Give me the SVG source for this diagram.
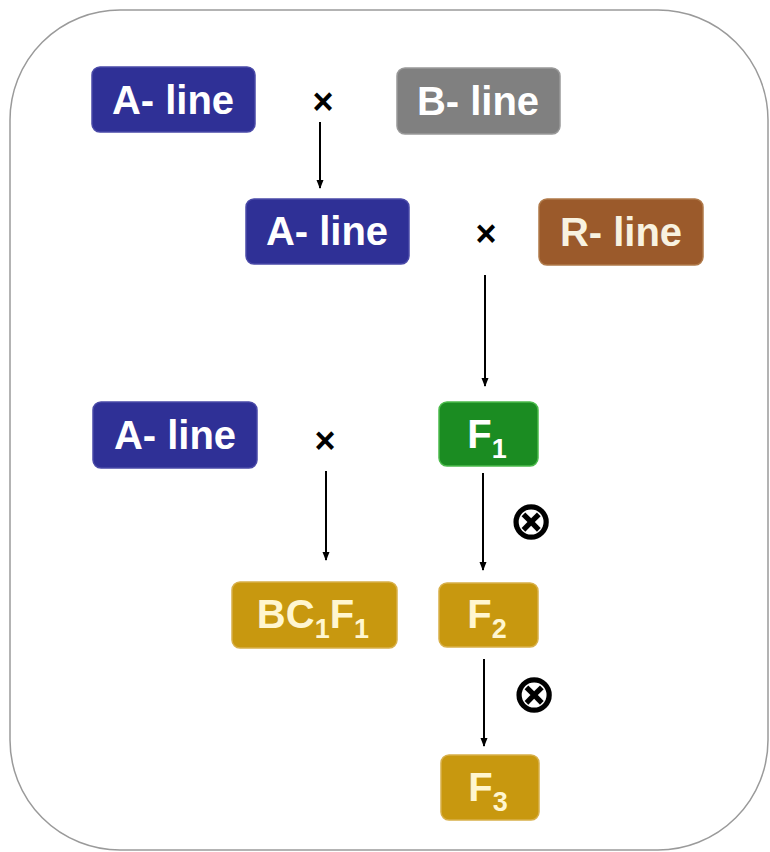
<svg xmlns="http://www.w3.org/2000/svg" width="770" height="852" viewBox="0 0 770 852">
<style>
  .box { stroke-width: 1.5; }
  .lbl { font-family: "Liberation Sans", "DejaVu Sans", sans-serif; font-weight: bold; font-size: 40px; text-anchor: middle; }
  .sub { font-size: 27px; }
  .cross { font-family: "Liberation Sans", "DejaVu Sans", sans-serif; font-weight: bold; font-size: 36px; text-anchor: middle; fill: #000; }
  .otimes { font-family: "DejaVu Sans", sans-serif; font-weight: bold; font-size: 54px; text-anchor: middle; fill: #000; }
  .conn { stroke: #000; stroke-width: 2; fill: none; marker-end: url(#arr); }
  .blue { fill: #2f3096; stroke: #4a4aa8; }
  .gray { fill: #808080; stroke: #999; }
  .brown { fill: #9b5a2b; stroke: #b07a4a; }
  .green { fill: #1b8c22; stroke: #4cbb4c; }
  .gold { fill: #c8980f; stroke: #d8b04a; }
</style>
<defs>
  <marker id="arr" markerWidth="10" markerHeight="10" refX="8" refY="5" orient="auto" markerUnits="userSpaceOnUse">
    <path d="M0,1.5 L9,5 L0,8.5 Z" fill="#000"/>
  </marker>
</defs>
<rect x="0" y="0" width="770" height="852" fill="#fff"/>
<rect x="10" y="10" width="758" height="840" rx="110" ry="110" fill="#fff" stroke="#9a9a9a" stroke-width="1.5"/>

<g id="connectors">
  <line class="conn" x1="320" y1="122" x2="320" y2="188"/>
  <line class="conn" x1="485" y1="275" x2="485" y2="386"/>
  <line class="conn" x1="326" y1="471" x2="326" y2="560"/>
  <line class="conn" x1="483" y1="473" x2="483" y2="570"/>
  <line class="conn" x1="484" y1="659" x2="484" y2="746"/>
</g>

<g id="ops">
  <text class="cross" x="323" y="114">×</text>
  <text class="cross" x="486" y="246">×</text>
  <text class="cross" x="325" y="453">×</text>
  <text class="otimes" x="531" y="539">⊗</text>
  <text class="otimes" x="534" y="712">⊗</text>
</g>

<g id="a-line-1">
  <rect class="box blue" x="92" y="67" width="163" height="65" rx="8"/>
  <text class="lbl" x="173" y="114" fill="#fff">A- line</text>
</g>
<g id="b-line">
  <rect class="box gray" x="397" y="68" width="163" height="66" rx="8"/>
  <text class="lbl" x="478" y="115" fill="#fff">B- line</text>
</g>
<g id="a-line-2">
  <rect class="box blue" x="246" y="199" width="163" height="65" rx="8"/>
  <text class="lbl" x="327" y="245" fill="#fff">A- line</text>
</g>
<g id="r-line">
  <rect class="box brown" x="539" y="199" width="164" height="66" rx="8"/>
  <text class="lbl" x="621" y="246" fill="#f8f2e0">R- line</text>
</g>
<g id="a-line-3">
  <rect class="box blue" x="93" y="402" width="164" height="66" rx="8"/>
  <text class="lbl" x="175" y="449" fill="#fff">A- line</text>
</g>
<g id="f1">
  <rect class="box green" x="439" y="402" width="99" height="64" rx="8"/>
  <text class="lbl" x="487" y="448" fill="#fff">F<tspan class="sub" dy="10">1</tspan></text>
</g>
<g id="bc1f1">
  <rect class="box gold" x="232" y="582" width="165" height="66" rx="8"/>
  <text class="lbl" x="313" y="628" fill="#fff6d0">BC<tspan class="sub" dy="10">1</tspan><tspan dy="-10">F</tspan><tspan class="sub" dy="10">1</tspan></text>
</g>
<g id="f2">
  <rect class="box gold" x="439" y="583" width="99" height="64" rx="8"/>
  <text class="lbl" x="487" y="628" fill="#fff6d0">F<tspan class="sub" dy="10">2</tspan></text>
</g>
<g id="f3">
  <rect class="box gold" x="441" y="755" width="98" height="65" rx="8"/>
  <text class="lbl" x="488" y="801" fill="#fff6d0">F<tspan class="sub" dy="10">3</tspan></text>
</g>
</svg>
